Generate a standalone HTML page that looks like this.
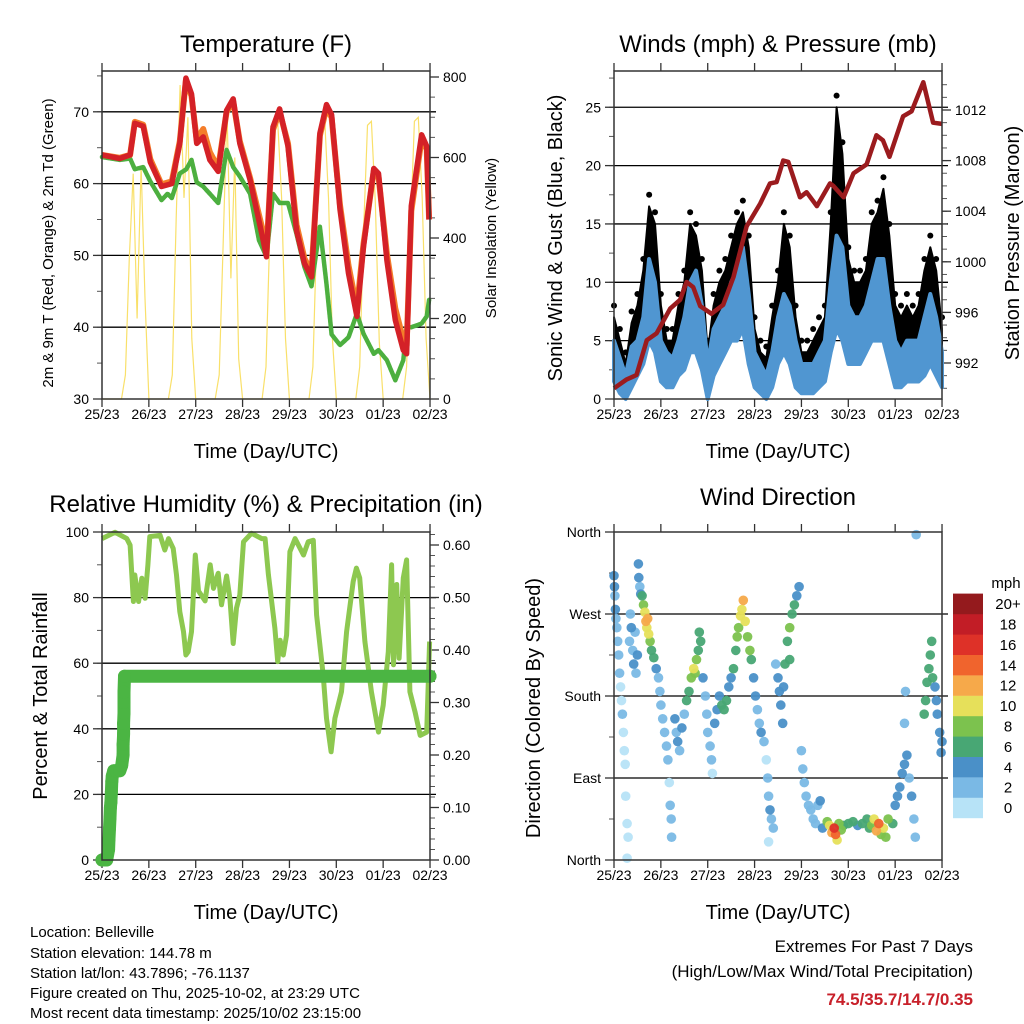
<!DOCTYPE html>
<html><head><meta charset="utf-8"><style>
html,body{margin:0;padding:0;background:#fff;}
svg{display:block;font-family:"Liberation Sans",sans-serif;}
</style></head><body>
<svg id="chart" width="1024" height="1024" viewBox="0 0 1024 1024" xmlns="http://www.w3.org/2000/svg">
<rect x="0" y="0" width="1024" height="1024" fill="#fff"/>
<text x="266" y="52" font-size="24" text-anchor="middle">Temperature (F)</text>
<text x="778" y="52" font-size="24" text-anchor="middle">Winds (mph) &amp; Pressure (mb)</text>
<text x="266" y="512" font-size="24" text-anchor="middle">Relative Humidity (%) &amp; Precipitation (in)</text>
<text x="778" y="505" font-size="24" text-anchor="middle">Wind Direction</text>
<text x="266" y="458" font-size="20" text-anchor="middle">Time (Day/UTC)</text>
<text x="778" y="458" font-size="20" text-anchor="middle">Time (Day/UTC)</text>
<text x="266" y="919" font-size="20" text-anchor="middle">Time (Day/UTC)</text>
<text x="778" y="919" font-size="20" text-anchor="middle">Time (Day/UTC)</text>
<text transform="translate(53,243) rotate(-90)" font-size="15" text-anchor="middle">2m &amp; 9m T (Red, Orange) &amp; 2m Td (Green)</text>
<text transform="translate(496,238) rotate(-90)" font-size="15" text-anchor="middle">Solar Insolation (Yellow)</text>
<text transform="translate(562,238) rotate(-90)" font-size="20" text-anchor="middle">Sonic Wind &amp; Gust (Blue, Black)</text>
<text transform="translate(1019,243) rotate(-90)" font-size="20" text-anchor="middle">Station Pressure (Maroon)</text>
<text transform="translate(47,696) rotate(-90)" font-size="20" text-anchor="middle">Percent &amp; Total Rainfall</text>
<text transform="translate(540,708) rotate(-90)" font-size="20" text-anchor="middle">Direction (Colored By Speed)</text>
<g font-size="15">
<text x="30" y="937">Location: Belleville</text>
<text x="30" y="958">Station elevation: 144.78 m</text>
<text x="30" y="978">Station lat/lon: 43.7896; -76.1137</text>
<text x="30" y="998">Figure created on Thu, 2025-10-02, at 23:29 UTC</text>
<text x="30" y="1018">Most recent data timestamp: 2025/10/02 23:15:00</text>
</g>
<text x="973" y="952" font-size="17" text-anchor="end">Extremes For Past 7 Days</text>
<text x="973" y="977" font-size="17" text-anchor="end">(High/Low/Max Wind/Total Precipitation)</text>
<text x="973" y="1005" font-size="17" font-weight="bold" fill="#c8202a" text-anchor="end">74.5/35.7/14.7/0.35</text>
<text x="1006" y="588" font-size="15" text-anchor="middle">mph</text>
</svg>
<script>
// ---- data ----
const dayLabels=['25/23','26/23','27/23','28/23','29/23','30/23','01/23','02/23'];
const tempDays=[0,0.38,0.6,0.7,0.88,1.03,1.27,1.49,1.66,1.79,1.91,2.02,2.16,2.3,2.48,2.66,2.8,2.94,3.16,3.44,3.51,3.65,3.79,3.97,4.15,4.32,4.47,4.65,4.79,4.9,5.08,5.26,5.44,5.58,5.8,5.9,6.08,6.26,6.43,6.5,6.6,6.82,6.93,6.98];
const temp9m=[64.0,63.5,64,68.4,68,63,59.6,60,65.6,74.7,72.5,65.6,66.5,63.3,61.7,70.2,71.8,65.6,60.5,52.1,49.8,67.9,70.4,65.2,53.5,48.9,47,67,71,69.6,56.4,47.5,41.5,51.2,62.1,61.4,49.3,41,36.8,36.3,56.9,66.8,65.2,55];
const temp2m=[64.0,63.6,64,68.6,68.2,63.4,59.9,60.3,65.9,74.4,72.2,66.1,67.6,64.4,62.2,70.0,71.4,65.9,60.8,53.2,50.4,67.5,70.0,65.6,54.3,49.6,47.6,66.7,70.6,69.2,57.0,48.6,42.6,51.6,61.8,61.0,50.2,42.6,38.2,37.4,56.2,66.2,64.8,55];
const dewDays=[0,0.38,0.6,0.7,0.88,1.03,1.27,1.4,1.49,1.66,1.8,1.91,2.02,2.16,2.3,2.48,2.66,2.8,2.94,3.16,3.35,3.51,3.65,3.79,3.97,4.15,4.32,4.47,4.65,4.79,4.9,5.08,5.26,5.44,5.58,5.8,5.9,6.08,6.26,6.43,6.5,6.6,6.82,6.93,6.98];
const dewPoint=[63.7,63.3,63.5,62,62.3,60.3,57.7,58.6,58,61.4,62,63.3,60.2,59.6,58.6,57.3,64.7,62.3,61,58.6,52.1,49.8,58.6,57.3,57.3,53,48.4,45.7,54,46,39,37.5,38.6,41.9,39.1,36.3,36.8,35.4,32.6,35.4,40,40,40.5,41.5,43.8];
const solar=[0,0,0,0,0,0,60,350,560,200,580,250,
 0,0,0,0,0,0,60,450,780,500,700,150,
 0,0,0,0,0,0,60,380,720,300,600,100,
 0,0,0,0,0,0,80,420,680,690,500,150,
 0,0,0,0,0,0,80,420,690,700,500,150,
 0,0,0,0,0,0,80,420,680,690,490,140,
 0,0,0,0,0,0,80,420,690,700,500,150,0];
const presDays=[0,0.27,0.48,0.7,0.91,1.2,1.41,1.55,1.69,1.84,2.08,2.33,2.55,2.83,3.12,3.33,3.47,3.61,3.72,3.97,4.11,4.33,4.61,4.68,4.9,5.11,5.39,5.6,5.74,5.88,6.17,6.35,6.6,6.81,7.0];
const pressure=[990,990.7,991.05,993.8,994.35,996.3,997,998.4,998,996.5,995.9,996.6,998.8,1002.8,1004.6,1006.2,1006.3,1008,1007.9,1005.1,1005.5,1004.4,1006.2,1006,1005.1,1007,1007.7,1010,1009.6,1008.3,1011.5,1011.9,1014.2,1011,1010.9];
const gustHigh=[8,6,4,7.5,9,12,17.5,16, 9,6,6,9,11,16,15,12, 5,9,11,12,14,16,17,14, 7,5,4.5,8,11,16,14,8, 5,5,6,7,8,16,26,22, 13,11,11,12,16,17,19,15, 9,8,9,8,9,12,14,12, 7];
const gustLow=[3.5,1.5,0,2,3,5,7,6, 3,2,1.5,3,4,6,6,4, 0.5,3,4,5,7,7,8,5, 2,1,0.5,2,4,6,5,2, 1,1,1.5,2,3,6,9,8, 5,5,5,5,7,7,7,5, 2,2,3,3,3,4,5,4, 2];
const windHigh=[5,3.5,2,4.5,5,7,12,10, 5,4,3.5,5,7,10,11,8, 3,6,7,8,10,11,13,9, 4,3,2,4,7,9,8,5, 3,3,3,4,5,10,14,13, 8,7,7,8,10,12,12,8, 5,4,5,5,5,7,9,7, 4];
const windLow=[1.5,0.5,0,1,2,3,5,4, 1.5,1,1,2,2.5,4,4,2.5, 0,2,3,4,5,5,6,3, 1,0.5,0,1,3,4,3,1, 0.5,0.5,0.5,1,1.5,4,6,5, 3,3,3,4,5,5,5,3, 1,1,1.5,1.5,1.5,2,3,2, 1];
const rhDays=[0,0.28,0.53,0.6,0.67,0.7,0.78,0.85,0.92,0.98,1.02,1.24,1.34,1.42,1.52,1.59,1.66,1.74,1.79,1.84,1.91,1.99,2.06,2.2,2.31,2.38,2.48,2.55,2.66,2.73,2.8,2.87,2.94,3.02,3.19,3.41,3.48,3.55,3.69,3.75,3.8,3.87,3.94,4.01,4.12,4.3,4.4,4.51,4.58,4.72,4.79,4.89,4.97,5.11,5.22,5.36,5.43,5.5,5.61,5.75,5.9,6.0,6.11,6.18,6.22,6.29,6.34,6.43,6.5,6.57,6.68,6.79,6.93,6.99];
const rh=[98,99.9,98,96,78.8,86.9,78.8,85.9,79.8,90,98.6,99,94.5,98,95,86.9,75.7,69.6,62.5,63.5,69.6,93,82,79,90,82.8,87.4,77.8,86.6,79.7,66,76.8,80.8,97,99.6,98,98,87,70.6,60.5,67,62.5,68.6,94,98,93,97,97.5,74.7,56.4,43.2,33,43.2,51.3,69.6,84.9,89,86,66.6,51.3,39,47.2,63.5,90,59.5,84,61.5,86,91.5,51.3,45.2,38,39,66.6];
const precipDays=[0,0.05,0.1,0.14,0.15,0.16,0.17,0.18,0.19,0.2,0.21,0.22,0.25,0.3,0.38,0.42,0.45,0.45,0.46,0.46,0.47,0.47,0.47,0.48,7.0];
const precip=[0,0,0,0.02,0.04,0.06,0.08,0.1,0.11,0.13,0.15,0.16,0.17,0.17,0.17,0.18,0.2,0.22,0.24,0.26,0.28,0.3,0.32,0.35,0.35];
const dirDay=[0.00,0.01,0.02,0.03,0.04,0.06,0.08,0.10,0.12,0.14,0.16,0.18,0.20,0.22,0.24,0.25,0.28,0.3,0.28,
0.33,0.35,0.37,0.40,0.42,0.45,0.47,0.5,
0.52,0.53,0.55,0.57,
0.60,0.63,0.66,0.68,0.70,0.72,0.74,0.77,0.80,0.85,0.9,
0.95,0.98,1.0,1.04,1.08,1.12,1.15,1.18,1.2,1.22,1.23,
1.3,1.33,1.36,1.4,1.45,1.5,
1.55,1.6,1.65,1.7,1.73,1.76,1.8,1.82,1.85,1.9,
1.95,1.98,2.0,2.05,2.08,2.1,2.15,
2.2,2.25,2.3,2.35,2.4,2.45,2.5,2.55,
2.6,2.63,2.66,2.7,2.73,2.76,2.8,2.85,2.9,2.93,
2.98,3.02,3.06,3.1,3.14,3.2,
3.25,3.28,3.3,3.33,3.36,3.4,3.3,
3.45,3.5,3.53,3.56,3.6,3.62,
3.65,3.7,3.75,3.8,3.85,3.9,3.95,3.75,
4.0,4.03,4.06,4.1,4.15,4.2,4.25,4.3,4.35,4.4,4.45,
4.55,4.6,4.65,4.7,4.73,4.76,4.8,4.85,4.9,
5.0,5.1,5.2,5.3,5.4,5.45,
5.5,5.55,5.6,5.65,5.7,5.75,5.8,5.85,5.95,
6.0,6.05,6.1,6.15,6.2,6.25,6.3,6.35,6.4,6.43,6.2,6.22,6.45,
6.62,6.65,6.68,6.72,6.75,6.78,6.8,6.85,6.88,6.9,6.95,
7.0,6.98];
const dirDeg=[312,300,290,275,265,255,240,225,205,190,175,160,140,120,105,70,40,25,2,
240,270,255,230,215,250,205,225,
325,310,300,292,
290,280,272,262,255,265,248,240,230,222,210,
200,185,170,155,140,125,110,85,60,45,25,
155,140,130,120,145,160,
175,185,200,210,205,220,230,250,240,200,
180,160,140,125,110,95,150,
165,180,170,165,175,190,200,210,
230,245,255,268,275,285,262,245,230,220,
200,180,165,150,140,130,
110,90,70,55,45,35,20,
215,200,185,170,150,190,
215,240,255,270,280,290,300,220,
120,100,85,70,60,55,45,40,60,65,35,
42,38,30,35,28,22,40,33,38,
40,42,38,40,45,35,
38,45,32,40,28,35,25,45,40,
60,70,80,95,105,115,90,70,45,25,150,185,357,
160,175,195,210,225,240,200,190,175,160,140,
130,118];
const dirSpd=[4,4,3,4,3,2,2,2,2,1,1,2,1,1,0,1,0,0,0,
3,2,4,2,4,3,3,4,
4,4,3,4,
6,8,10,12,10,12,10,8,6,6,4,
2,2,3,2,2,3,2,1,2,2,2,
4,3,4,2,4,3,
6,7,8,10,9,8,6,6,7,4,
2,3,2,3,2,1,4,
4,4,6,6,6,4,4,6,
7,8,8,10,11,12,10,8,8,7,
4,4,3,2,4,3,
1,2,2,4,3,2,1,
3,4,4,4,4,4,
6,7,8,7,7,4,4,6,
2,2,2,2,3,2,2,3,2,4,4,
8,10,12,16,14,10,8,8,6,
6,6,4,6,6,6,
8,10,12,14,8,10,8,8,6,
4,4,4,4,4,4,3,4,2,2,3,2,2,
6,6,7,6,6,6,7,4,4,4,4,
4,4];
const speedColors=['#b7e3f7','#7ab9e5','#4a90c8','#48a774','#7cc24e','#e6e05a','#f6a94a','#f0642d','#de3128','#c21d26','#941a1d'];
const speedLabels=['0','2','4','6','8','10','12','14','16','18','20+'];
const tempTicks=[30,40,50,60,70];
const solarTicks=[0,200,400,600,800];
const windTicks=[0,5,10,15,20,25];
const presTicks=[992,996,1000,1004,1008,1012];
const rhTicks=[0,20,40,60,80,100];
const rainTicks=[0,0.1,0.2,0.3,0.4,0.5,0.6];
const dirTicks=[0,90,180,270,360];
const dirNames=['North','East','South','West','North'];

// ---- drawing ----
const NS='http://www.w3.org/2000/svg';
const svg=document.getElementById('chart');
function mk(tag,attrs,parent){const e=document.createElementNS(NS,tag);for(const k in attrs)e.setAttribute(k,attrs[k]);(parent||svg).appendChild(e);return e;}
const DAYPX=46.86;
const xL=d=>102+d*DAYPX, xR=d=>614+d*DAYPX;
const yTemp=v=>399-(v-30)*7.18, ySolar=v=>399-v*0.4025;
const yWind=v=>399-v*11.67, yPres=v=>363-(v-992)*12.65;
const yRh=v=>860-v*3.28, yRain=v=>860-v*525;
const yDir=v=>860-v*0.9111;

function pts(days,vals,fx,fy){return days.map((d,i)=>fx(d).toFixed(1)+','+fy(vals[i]).toFixed(1)).join(' ');}

function axes(prefix,x0,y0,x1,y1,fx,left,right){
  const g=mk('g',{});
  
  
  left.grid.forEach(v=>{
    const l=mk('line',{x1:x0,x2:x1+6,y1:left.f(v),y2:left.f(v),stroke:'#000','stroke-width':1.3},g);
    
    
  });
  dayLabels.forEach((lab,i)=>{
    const x=fx(i);
    const t1=mk('line',{x1:x,x2:x,y1:y0-8,y2:y0,stroke:'#333','stroke-width':1.3},g);
    
    
    const t2=mk('line',{x1:x,x2:x,y1:y1,y2:y1+8,stroke:'#333','stroke-width':1.3},g);
    
    
    const tx=mk('text',{x:x,y:y1+20,'font-size':14,'text-anchor':'middle'},g);
    tx.textContent=lab;
    
    
  });
  [[left,x0,-1],[right,x1,1]].forEach(([ax,xe,s])=>{
    if(!ax) return;
    ax.minor.forEach(v=>{
      const m=mk('line',{x1:xe,x2:xe+s*5,y1:ax.f(v),y2:ax.f(v),stroke:'#555','stroke-width':1},g);
      
      
    });
    ax.ticks.forEach((v,i)=>{
      const y=ax.f(v);
      const t=mk('line',{x1:xe,x2:xe+s*9,y1:y,y2:y,stroke:'#333','stroke-width':1.3},g);
      
      
      const tx=mk('text',{x:xe+s*13,y:y+5,'font-size':14,'text-anchor':s<0?'end':'start'},g);
      tx.textContent=ax.labels[i];
      
      
    });
  });
}
function frame(prefix,x0,y0,x1,y1){
  const r=mk('rect',{x:x0,y:y0,width:x1-x0,height:y1-y0,fill:'none',stroke:'#333','stroke-width':1.5});
  
  
}
function range(a,b,s){const o=[];for(let v=a;v<=b+1e-9;v+=s)o.push(+v.toFixed(4));return o;}

// ---------- Temperature panel ----------
axes('temp',102,71,430,399,xL,
 {f:yTemp,ticks:tempTicks,labels:tempTicks.map(String),grid:[40,50,60,70],minor:range(30,75,5)},
 {f:ySolar,ticks:solarTicks,labels:solarTicks.map(String),minor:range(0,800,50)});
const solarLine=mk('polyline',{points:solar.map((v,i)=>xL(i/12).toFixed(1)+','+ySolar(v).toFixed(1)).join(' '),fill:'none',stroke:'#f9e06a','stroke-width':1.2});


const dewLine=mk('polyline',{points:pts(dewDays,dewPoint,xL,yTemp),fill:'none',stroke:'#4caf3f','stroke-width':4.5,'stroke-linejoin':'round','stroke-linecap':'round','stroke-dasharray':'3 1'});


const t2Line=mk('polyline',{points:pts(tempDays,temp2m,xL,yTemp),fill:'none',stroke:'#f47d2a','stroke-width':6,'stroke-linejoin':'round'});


const t9Line=mk('polyline',{points:pts(tempDays,temp9m,xL,yTemp),fill:'none',stroke:'#d42127','stroke-width':5.5,'stroke-linejoin':'round'});


frame('temp',102,71,430,399);

// ---------- Winds panel ----------
axes('wind',614,71,942,399,xR,
 {f:yWind,ticks:windTicks,labels:windTicks.map(String),grid:[5,10,15,20,25],minor:range(0,27.5,2.5)},
 {f:yPres,ticks:presTicks,labels:presTicks.map(String),minor:range(990,1014,1)});
const wDays=gustHigh.map((v,i)=>i/8);
const gustTop=gustHigh.map(v=>v-1);
const gustBand=mk('polygon',{points:pts(wDays,gustTop,xR,yWind)+' '+pts(wDays.slice().reverse(),gustLow.slice().reverse(),xR,yWind),fill:'#000',stroke:'#000','stroke-width':2,'stroke-linejoin':'round'});


gustHigh.forEach((v,i)=>{
  const c=mk('circle',{cx:xR(wDays[i]),cy:yWind(v),r:3,fill:'#000'});
  
  
});
const windBand=mk('polygon',{points:pts(wDays,windHigh,xR,yWind)+' '+pts(wDays.slice().reverse(),windLow.slice().reverse(),xR,yWind),fill:'#5096d1',stroke:'#5096d1','stroke-width':4,'stroke-linejoin':'round'});


const presLine=mk('polyline',{points:pts(presDays,pressure,xR,yPres),fill:'none',stroke:'#9b1b1e','stroke-width':4.5,'stroke-linejoin':'round'});


frame('wind',614,71,942,399);

// ---------- Humidity panel ----------
axes('rh',102,532,430,860,xL,
 {f:yRh,ticks:rhTicks,labels:rhTicks.map(String),grid:[20,40,60,80],minor:range(0,100,10)},
 {f:yRain,ticks:rainTicks,labels:rainTicks.map(v=>v.toFixed(2)),minor:range(0,0.62,0.02)});
const rhLine=mk('polyline',{points:pts(rhDays,rh,xL,yRh),fill:'none',stroke:'#8dc850','stroke-width':5,'stroke-linejoin':'round'});


const rainLine=mk('polyline',{points:pts(precipDays,precip,xL,yRain),fill:'none',stroke:'#4bb543','stroke-width':13,'stroke-linejoin':'round','stroke-linecap':'round'});


precip.forEach((v,i)=>{
  const c=mk('circle',{cx:xL(precipDays[i]),cy:yRain(v),r:6.5,fill:'#4bb543'});
  
  
});
frame('rh',102,532,430,860);

// ---------- Wind direction panel ----------
axes('dir',614,532,942,860,xR,
 {f:yDir,ticks:dirTicks,labels:dirNames,grid:[90,180,270],minor:range(0,360,45)},null);
const order=dirSpd.map((s,i)=>i).sort((a,b)=>dirSpd[a]-dirSpd[b]);
order.forEach(i=>{
  const ci=Math.min(10,Math.floor(dirSpd[i]/2));
  const c=mk('circle',{cx:xR(dirDay[i]).toFixed(1),cy:yDir(dirDeg[i]).toFixed(1),r:4.8,fill:speedColors[ci],'fill-opacity':0.95});
  
  
});
frame('dir',614,532,942,860);

// colorbar
speedColors.forEach((col,i)=>{
  const y=818-(i+1)*20.4;
  const r=mk('rect',{x:953,y:y.toFixed(1),width:30,height:20.6,fill:col});
  
  
  const t=mk('text',{x:1008,y:(y+15.5).toFixed(1),'font-size':15,'text-anchor':'middle'});
  t.textContent=speedLabels[i];
  
  
});
</script>
</body></html>
